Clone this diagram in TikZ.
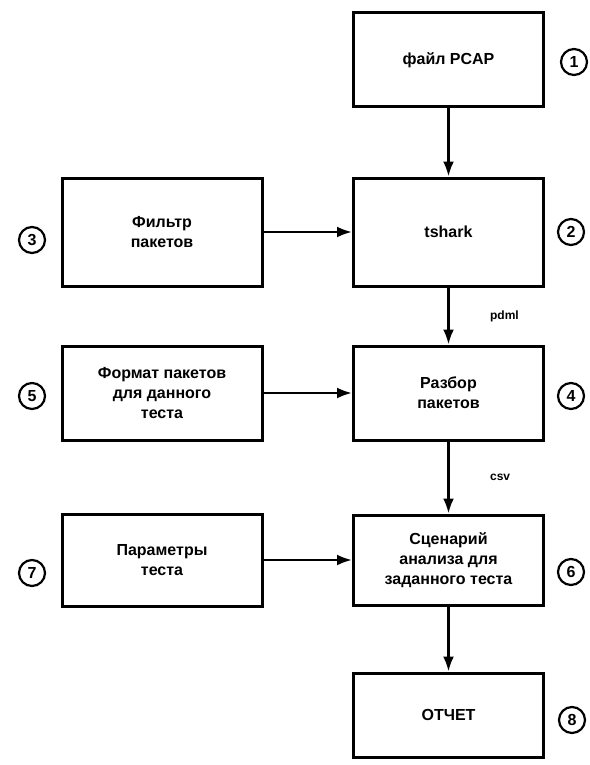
\documentclass[tikz,border=0pt]{standalone}
\usepackage{fontspec}
\setmainfont{Liberation Sans}
\usetikzlibrary{arrows.meta}

\tikzset{
    box/.style={draw, line width=3pt, minimum width=190pt, align=center,
        inner sep=2pt, font=\bfseries\fontsize{16}{20}\selectfont},
    numc/.style={draw, circle, line width=2.2pt, minimum size=26pt, inner sep=0pt,
        font=\bfseries\fontsize{16}{16}\selectfont},
    conn/.style={line width=2.6pt, -{Latex[length=15pt, width=11pt]}},
    lbl/.style={font=\bfseries\fontsize{12}{12}\selectfont}
}

\begin{document}
\begin{tikzpicture}[x=1pt, y=-1pt]
    \useasboundingbox (0,0) rectangle (589,765);

    % Main column
    \node[box, minimum height=94pt]  (pcap)   at (448.5,60)  {файл PCAP};
    \node[box, minimum height=108pt] (tshark) at (448.5,232) {tshark};
    \node[box, minimum height=94pt]  (parse)  at (448.5,393) {Разбор\\пакетов};
    \node[box, minimum height=90pt]  (scen)   at (448.5,560) {Сценарий\\анализа для\\заданного теста};
    \node[box, minimum height=84pt]  (report) at (448.5,715) {ОТЧЕТ};

    % Inputs on the left
    \node[box, minimum width=200pt, minimum height=108pt] (filter) at (162,232) {Фильтр\\пакетов};
    \node[box, minimum width=200pt, minimum height=94pt]  (format) at (162,393) {Формат пакетов\\для данного\\теста};
    \node[box, minimum width=200pt, minimum height=92pt]  (params) at (162,560) {Параметры\\теста};

    % Numbered markers
    \foreach \n/\x/\y in {1/574/62, 2/571/232, 4/571/396, 6/571/572, 8/572/720,
                          3/32/240, 5/32/396, 7/32/573} {
        \node[numc] (m\n) at (\x,\y) {\n};
    }

    % Connectors
    \draw[conn] (pcap) -- (tshark);
    \draw[conn] (tshark) -- node[lbl, right=37pt] (pdml) {pdml} (parse);
    \draw[conn] (parse) -- node[lbl, right=37pt] (csv) {csv} (scen);
    \draw[conn] (scen) -- (report);
    \draw[conn] (filter) -- (tshark);
    \draw[conn] (format) -- (parse);
    \draw[conn] (params) -- (scen);

\end{tikzpicture}
\end{document}
